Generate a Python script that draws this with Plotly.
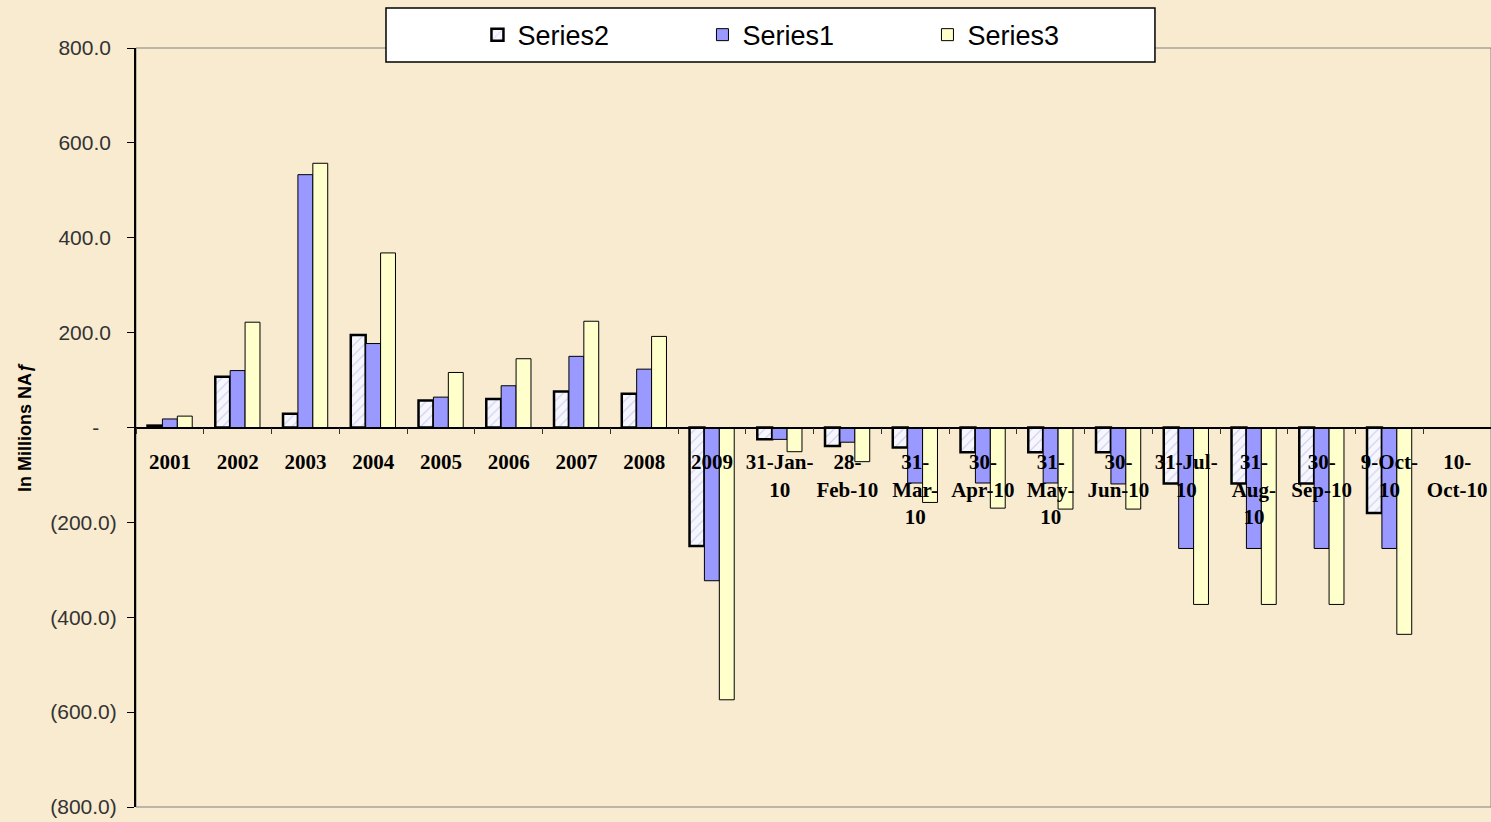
import plotly.graph_objects as go

categories = ["2001", "2002", "2003", "2004", "2005", "2006", "2007", "2008", "2009",
              "31-Jan-10", "28-Feb-10", "31-Mar-10", "30-Apr-10", "31-May-10", "30-Jun-10",
              "31-Jul-10", "31-Aug-10", "30-Sep-10", "9-Oct-10", "10-Oct-10"]
tick_labels = ["2001", "2002", "2003", "2004", "2005", "2006", "2007", "2008", "2009",
               "31-Jan-<br>10", "28-<br>Feb-10", "31-<br>Mar-<br>10", "30-<br>Apr-10", "31-<br>May-<br>10",
               "30-<br>Jun-10", "31-Jul-<br>10", "31-<br>Aug-<br>10", "30-<br>Sep-10", "9-Oct-<br>10", "10-<br>Oct-10"]
series2 = [4, 107, 29, 195, 57, 60, 76, 71, -250, -25, -39, -42, -52, -52, -52, -118, -118, -118, -180, None]
series1 = [18, 120, 533, 177, 64, 88, 150, 123, -323, -25, -31, -117, -117, -117, -119, -255, -255, -255, -255, None]
series3 = [24, 222, 557, 368, 116, 145, 224, 192, -574, -51, -72, -158, -170, -172, -172, -373, -373, -373, -436, None]

y_tickvals = [-800, -600, -400, -200, 0, 200, 400, 600, 800]
y_ticktext = ["(800.0)", "(600.0)", "(400.0)", "(200.0)", "-\u00a0\u00a0\u00a0",
              "200.0\u00a0", "400.0\u00a0", "600.0\u00a0", "800.0\u00a0"]

bg = "#F8EBD0"

fig = go.Figure()
fig.add_trace(go.Bar(
    name="Series2", x=categories, y=series2,
    marker=dict(color="#F6F6FF", line=dict(color="black", width=2.5),
                pattern=dict(shape="/", fgcolor="#A0A0D8", bgcolor="#F6F6FF", size=7, solidity=0.15)),
))
fig.add_trace(go.Bar(
    name="Series1", x=categories, y=series1,
    marker=dict(color="#9999FF", line=dict(color="black", width=1)),
))
fig.add_trace(go.Bar(
    name="Series3", x=categories, y=series3,
    marker=dict(color="#FFFFCC", line=dict(color="black", width=1)),
))

fig.update_layout(
    width=1491, height=822,
    paper_bgcolor=bg, plot_bgcolor=bg,
    margin=dict(l=136, r=0, t=48, b=15),
    barmode="group", bargap=0.34, bargroupgap=0,
    showlegend=True,
    legend=dict(orientation="h", x=0.252, xanchor="left", y=1.017, yanchor="middle",
                bgcolor="rgba(0,0,0,0)", borderwidth=0,
                font=dict(family="Liberation Sans, Arial", size=27, color="black"),
                entrywidth=180, entrywidthmode="pixels", itemwidth=30, traceorder="normal"),
    shapes=[
        dict(type="rect", xref="paper", yref="paper", x0=0, x1=1, y0=0, y1=1,
             line=dict(color="#808080", width=1), fillcolor="rgba(0,0,0,0)", layer="below"),
        dict(type="rect", xref="paper", yref="paper", x0=0.1845, x1=0.752, y0=0.9816, y1=1.0527,
             line=dict(color="black", width=1.5), fillcolor="white", layer="above"),
    ],
    font=dict(family="Liberation Sans, Arial", color="#222222"),
)

fig.update_xaxes(
    type="category", anchor="free", position=0.5,
    showline=True, linecolor="black", linewidth=1.5,
    ticks="outside", ticklen=6, tickcolor="#333333", tickson="boundaries",
    tickvals=categories, ticktext=tick_labels, tickangle=0,
    tickfont=dict(family="Liberation Serif, Times New Roman", size=21, color="black", weight="bold"),
    ticklabelstandoff=16,
    showgrid=False, zeroline=False,
)
fig.update_yaxes(
    range=[-800, 800], tickvals=y_tickvals, ticktext=y_ticktext,
    showline=True, linecolor="black", linewidth=2,
    ticks="outside", ticklen=7, tickcolor="black",
    tickfont=dict(family="Liberation Sans, Arial", size=21, color="#333333"),
    ticklabelstandoff=6,
    showgrid=False, zeroline=False,
    title=dict(text="<b>In Millions NA<i>ƒ</i></b>", standoff=14,
               font=dict(family="Liberation Sans, Arial", size=18, color="black")),
)

fig.write_html("out.html", config={"displayModeBar": False},
               post_script="document.body.style.margin='0';")
